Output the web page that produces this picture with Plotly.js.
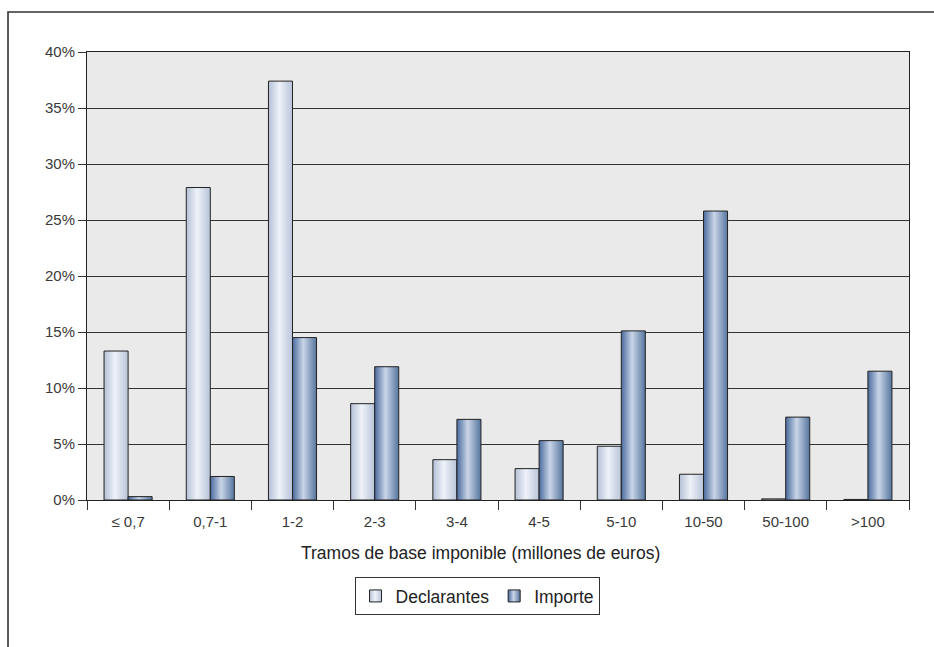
<!DOCTYPE html>
<html>
<head>
<meta charset="utf-8">
<script src="https://cdn.plot.ly/plotly-3.0.1.min.js"></script>
<style>
html,body{margin:0;padding:0;background:#fff;}
#chart{width:934px;height:647px;}
</style>
</head>
<body>
<div id="chart"></div>
<script>
const categories = ["≤ 0,7", "0,7-1", "1-2", "2-3", "3-4", "4-5", "5-10", "10-50", "50-100", ">100"];
const declarantes = [13.3, 27.9, 37.4, 8.6, 3.6, 2.8, 4.8, 2.3, 0.1, 0.05];
const importe = [0.3, 2.1, 14.5, 11.9, 7.2, 5.3, 15.1, 25.8, 7.4, 11.5];
const seriesNames = ["Declarantes", "Importe"];
const xTitle = "Tramos de base imponible (millones de euros)";

const fam = "Liberation Sans, Arial, sans-serif";
const tickFont = {family: fam, size: 15, color: "#3a3a3a"};

const traces = [
  {type: "bar", name: seriesNames[0], x: categories, y: declarantes,
   marker: {color: "#dfe6f1", line: {color: "#222", width: 1}}},
  {type: "bar", name: seriesNames[1], x: categories, y: importe,
   marker: {color: "#7f98c0", line: {color: "#222", width: 1}}}
];

const layout = {
  width: 934, height: 647,
  margin: {l: 87, r: 25, t: 52, b: 147},
  paper_bgcolor: "#fff",
  plot_bgcolor: "#eaeaea",
  font: tickFont,
  barmode: "group",
  bargap: 0.415,
  bargroupgap: 0,
  showlegend: true,
  legend: {
    orientation: "h", x: 0.4745, xanchor: "center", y: -0.172, yanchor: "top",
    bordercolor: "#333", borderwidth: 1, bgcolor: "#fff",
    font: {family: fam, size: 17.5, color: "#222"},
    itemwidth: 20, traceorder: "normal"
  },
  xaxis: {
    type: "category",
    showline: true, linecolor: "#222", linewidth: 1, mirror: true,
    ticks: "outside", tickson: "boundaries", ticklen: 9, tickcolor: "#333",
    ticklabelstandoff: 8,
    showgrid: false, zeroline: false,
    tickfont: tickFont,
    fixedrange: true
  },
  yaxis: {
    range: [0, 40], dtick: 5, ticksuffix: "%",
    showline: true, linecolor: "#222", linewidth: 1, mirror: true,
    ticks: "outside", ticklen: 8, tickcolor: "#333",
    showgrid: true, gridcolor: "#333", gridwidth: 1,
    zeroline: false,
    tickfont: tickFont,
    fixedrange: true
  },
  annotations: [{
    text: xTitle, xref: "paper", yref: "paper",
    x: 0.479, y: -0.1183, xanchor: "center", yanchor: "middle",
    showarrow: false,
    font: {family: fam, size: 17.5, color: "#222"}
  }],
  shapes: [{
    type: "path", xref: "paper", yref: "paper",
    path: "M -0.0961 -0.4 L -0.0961 1.0893 L 1.2 1.0893",
    line: {color: "#333", width: 1.6}
  }]
};

Plotly.newPlot("chart", traces, layout, {displayModeBar: false, staticPlot: true}).then(function (gd) {
  const svgNS = "http://www.w3.org/2000/svg";
  const svg = gd.querySelector("svg.main-svg");
  let defs = svg.querySelector("defs");
  if (!defs) { defs = document.createElementNS(svgNS, "defs"); svg.insertBefore(defs, svg.firstChild); }
  const grads = [
    {id: "gDecl", stops: [[0, "#b3c0d6"], [0.45, "#eef2f9"], [1, "#b8c4d9"]]},
    {id: "gImp", stops: [[0, "#4a6a9e"], [0.45, "#c9d5e7"], [1, "#56759f"]]}
  ];
  grads.forEach(function (g) {
    const lg = document.createElementNS(svgNS, "linearGradient");
    lg.setAttribute("id", g.id);
    lg.setAttribute("x1", "0"); lg.setAttribute("y1", "0");
    lg.setAttribute("x2", "1"); lg.setAttribute("y2", "0");
    g.stops.forEach(function (s) {
      const st = document.createElementNS(svgNS, "stop");
      st.setAttribute("offset", s[0]);
      st.setAttribute("stop-color", s[1]);
      lg.appendChild(st);
    });
    defs.appendChild(lg);
  });
  const barTraces = gd.querySelectorAll(".barlayer .trace");
  barTraces.forEach(function (t, i) {
    t.querySelectorAll(".point path").forEach(function (p) {
      p.style.fill = "url(#" + grads[i].id + ")";
    });
  });
  const legTraces = gd.querySelectorAll(".legend .traces");
  legTraces.forEach(function (t, i) {
    t.querySelectorAll(".legendpoints path").forEach(function (p) {
      p.style.fill = "url(#" + grads[i].id + ")";
    });
  });
});
</script>
</body>
</html>
